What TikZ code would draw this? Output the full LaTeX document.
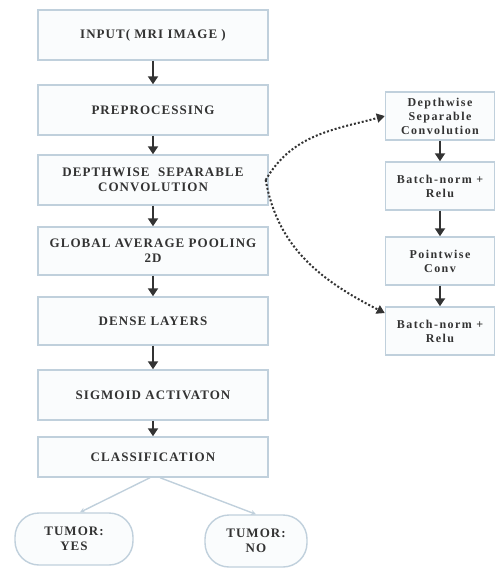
\documentclass[tikz,border=0pt]{standalone}
\usepackage{fontspec}
\newfontfamily\boxfont[LetterSpace=8, BoldFont={Liberation Serif Bold}]{Liberation Serif}
\newfontfamily\subfont[LetterSpace=12, BoldFont={Liberation Serif Bold}]{Liberation Serif}
\usetikzlibrary{arrows.meta}
\definecolor{boxline}{HTML}{C0D0DC}
\definecolor{boxfill}{HTML}{FAFCFD}
\definecolor{ink}{HTML}{333333}
\tikzset{
  stage/.style={draw=boxline, fill=boxfill, line width=1.4pt, minimum width=230pt, minimum height=50pt, align=center, text=ink, font=\boxfont\bfseries\fontsize{13}{15}\selectfont},
  substage/.style={draw=boxline, fill=boxfill, line width=1.4pt, minimum width=109pt, minimum height=48pt, align=center, text=ink, font=\subfont\bfseries\fontsize{12}{14}\selectfont},
  outcome/.style={stage, rounded corners=24pt, minimum height=52pt},
  flow/.style={draw=ink, line width=2.6pt, -{Triangle[length=8pt,width=10pt]}},
  split/.style={draw=boxline, line width=1.4pt, -{Stealth[length=5pt,width=5pt]}},
  expand/.style={draw=ink, line width=2pt, dotted, -{Triangle[length=8pt,width=9pt]}}
}

\begin{document}
\begin{tikzpicture}[x=1pt,y=-1pt]
\useasboundingbox (0,0) rectangle (497,570);
% main pipeline
\node[stage] (inp) at (153,35) {INPUT( MRI IMAGE )};
\node[stage] (pre) at (153,110) {PREPROCESSING};
\node[stage] (dsc) at (153,180) {DEPTHWISE\ \ SEPARABLE\\CONVOLUTION};
\node[stage, minimum height=48pt] (gap) at (153,251) {GLOBAL AVERAGE POOLING\\2D};
\node[stage, minimum height=48pt] (den) at (153,321) {DENSE LAYERS};
\node[stage] (sig) at (153,395) {SIGMOID ACTIVATON};
\node[stage, minimum height=40pt] (cls) at (153,457) {CLASSIFICATION};
\node[outcome, minimum width=118pt] (yes) at (74,539) {TUMOR:\\YES};
\node[outcome, minimum width=102pt] (no) at (256,541) {TUMOR:\\NO};
\draw[flow] (inp) -- (pre);
\draw[flow] (pre) -- (dsc);
\draw[flow] (dsc) -- (gap);
\draw[flow] (gap) -- (den);
\draw[flow] (den) -- (sig);
\draw[flow] (sig) -- (cls);
\draw[split] ([xshift=-3pt]cls.south) -- ([xshift=6pt]yes.north);
\draw[split] ([xshift=7pt]cls.south) -- (no.north);
% inside the separable convolution
\node[substage] (dw) at (440,116) {Depthwise\\Separable\\Convolution};
\node[substage] (bn1) at (440,186) {Batch-norm +\\Relu};
\node[substage] (pw) at (440,261) {Pointwise\\Conv};
\node[substage] (bn2) at (440,331) {Batch-norm +\\Relu};
\draw[flow] (dw) -- (bn1);
\draw[flow] (bn1) -- (pw);
\draw[flow] (pw) -- (bn2);
\draw[expand] ([xshift=-3pt]dsc.east) to[out=60, in=195] (dw.west);
\draw[expand] ([xshift=-3pt]dsc.east) to[out=-80, in=153] (bn2.162);
\end{tikzpicture}
\end{document}
